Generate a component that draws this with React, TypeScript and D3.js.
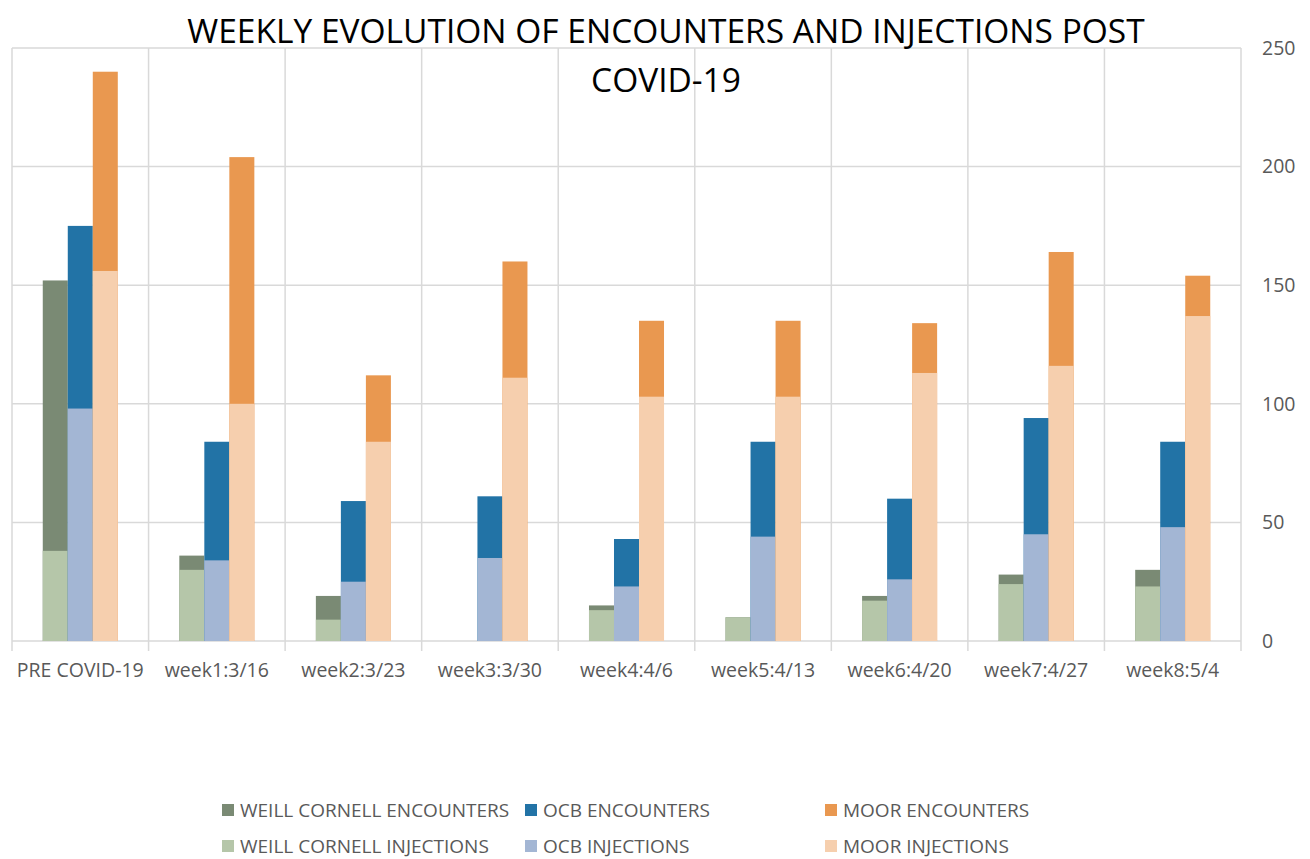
import React from "react";
import * as d3 from "d3";

const categories = ["PRE COVID-19", "week1:3/16", "week2:3/23", "week3:3/30", "week4:4/6", "week5:4/13", "week6:4/20", "week7:4/27", "week8:5/4"];
const wcEncounters = [152, 36, 19, 0, 15, 10, 19, 28, 30];
const wcInjections = [38, 30, 9, 0, 13, 10, 17, 24, 23];
const ocbEncounters = [175, 84, 59, 61, 43, 84, 60, 94, 84];
const ocbInjections = [98, 34, 25, 35, 23, 44, 26, 45, 48];
const moorEncounters = [240, 204, 112, 160, 135, 135, 134, 164, 154];
const moorInjections = [156, 100, 84, 111, 103, 103, 113, 116, 137];
const yTicks = [0, 50, 100, 150, 200, 250];

const groups = ["wc", "ocb", "moor"];
const series = [
  { key: "wc", name: "WEILL CORNELL ENCOUNTERS", enc: wcEncounters, inj: wcInjections, encColor: "#7a8a74", injColor: "#b5c6a9", injName: "WEILL CORNELL INJECTIONS" },
  { key: "ocb", name: "OCB ENCOUNTERS", enc: ocbEncounters, inj: ocbInjections, encColor: "#2273a6", injColor: "#a3b6d4", injName: "OCB INJECTIONS" },
  { key: "moor", name: "MOOR ENCOUNTERS", enc: moorEncounters, inj: moorInjections, encColor: "#e99850", injColor: "#f6cfae", injName: "MOOR INJECTIONS" },
];

const FONT = "'Open Sans', sans-serif";

export default function App() {
  const W = 1310, H = 859;
  const left = 12, right = 1241, top = 48, bottom = 641;
  const x = d3.scaleBand<string>().domain(categories).range([left, right]).paddingInner(0).paddingOuter(0);
  const bw = x.bandwidth();
  const inner = d3.scaleBand<string>().domain(groups).range([0, bw]).paddingInner(0).paddingOuter(1.23);
  const y = d3.scaleLinear().domain([0, 250]).range([bottom, top]);
  const barW = inner.bandwidth();

  const legendCols = [222, 525, 825];
  const legendRows = [810, 846];

  return (
    <svg width={W} height={H} style={{ display: "block", position: "absolute", left: 0, top: 0 }} fontFamily={FONT}>
      <rect width={W} height={H} fill="#ffffff" />
      {yTicks.map((t) => (
        <line key={"h" + t} x1={left} x2={right} y1={y(t)} y2={y(t)} stroke="#d9d9d9" strokeWidth={1.5} />
      ))}
      {[...categories.map((c) => x(c)!), right].map((xx, i) => (
        <line key={"v" + i} x1={xx} x2={xx} y1={top} y2={bottom + 10} stroke="#d9d9d9" strokeWidth={1.5} />
      ))}
      {series.map((s) =>
        categories.map((c, i) => {
          const bx = x(c)! + inner(s.key)!;
          return (
            <g key={s.key + i}>
              {s.enc[i] > 0 && <rect x={bx} y={y(s.enc[i])} width={barW} height={y(0) - y(s.enc[i])} fill={s.encColor} />}
              {s.inj[i] > 0 && <rect x={bx} y={y(s.inj[i])} width={barW} height={y(0) - y(s.inj[i])} fill={s.injColor} />}
            </g>
          );
        })
      )}
      {yTicks.map((t) => (
        <text key={"t" + t} x={1262} y={y(t)} dy="0.35em" fontSize={19.5} fill="#595959">{t}</text>
      ))}
      {categories.map((c) => (
        <text key={"c" + c} x={x(c)! + bw / 2} y={670} dy="0.35em" textAnchor="middle" fontSize={19.5} fill="#595959">{c}</text>
      ))}
      <text x={666} y={31} dy="0.35em" textAnchor="middle" fontSize={33.5} fill="#000000">WEEKLY EVOLUTION OF ENCOUNTERS AND INJECTIONS POST</text>
      <text x={666} y={80} dy="0.35em" textAnchor="middle" fontSize={33.5} fill="#000000">COVID-19</text>
      {series.map((s, i) => (
        <g key={"l" + s.key}>
          <rect x={legendCols[i]} y={legendRows[0] - 6} width={12} height={12} fill={s.encColor} />
          <text x={legendCols[i] + 18} y={legendRows[0]} dy="0.35em" fontSize={19} fill="#595959">{s.name}</text>
          <rect x={legendCols[i]} y={legendRows[1] - 6} width={12} height={12} fill={s.injColor} />
          <text x={legendCols[i] + 18} y={legendRows[1]} dy="0.35em" fontSize={19} fill="#595959">{s.injName}</text>
        </g>
      ))}
    </svg>
  );
}
